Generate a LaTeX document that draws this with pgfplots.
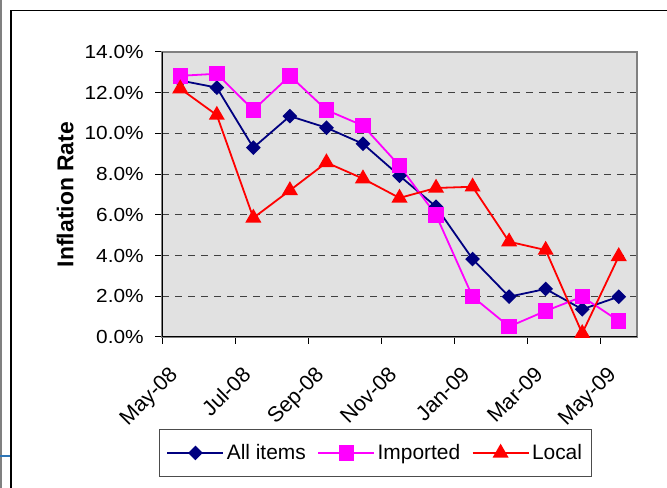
\documentclass[border=0pt]{standalone}
\usepackage{pgfplots}
\pgfplotsset{compat=1.18}
\usepackage{fontspec}
\setmainfont{Liberation Sans}
\definecolor{plotbg}{HTML}{E1E1E1}
\definecolor{navyc}{HTML}{000080}
\definecolor{magc}{HTML}{FF00FF}
\definecolor{redc}{HTML}{FF0000}
\definecolor{slideblue}{HTML}{2E75B6}
\begin{document}
\begin{tikzpicture}[x=1bp,y=1bp]
\useasboundingbox (0,0) rectangle (667,488);
\draw[black!50, line width=2bp] (1,0) -- (1,488);
\draw[black, line width=1.2bp] (11,0) -- (11,477.5) -- (667,477.5);
\draw[slideblue, line width=2bp] (0,32) -- (10,32);
\begin{axis}[
  at={(162bp,151bp)}, anchor=south west,
  scale only axis, width=475bp, height=285bp,
  xmin=0, xmax=13, ymin=0, ymax=14,
  axis background/.style={fill=plotbg},
  axis line style={draw=black!50, line width=1.5bp},
  xtick={0,2,...,12},
  xticklabels={May-08,Jul-08,Sep-08,Nov-08,Jan-09,Mar-09,May-09},
  ytick={0,2,...,14},
  yticklabels={0.0\%,2.0\%,4.0\%,6.0\%,8.0\%,10.0\%,12.0\%,14.0\%},
  xtick pos=bottom, ytick pos=left,
  tick align=outside, major tick length=7bp,
  tick style={black, line width=1bp},
  ymajorgrids,
  major grid style={draw=black!75, line width=0.9bp, dash pattern=on 7bp off 6bp},
  yticklabel style={font=\fontsize{19}{19}\selectfont, inner sep=1bp, xshift=-10bp, xscale=1.1},
  xticklabel style={font=\fontsize{21.5}{21.5}\selectfont, inner sep=0pt, xshift=6bp, yshift=-21bp, rotate=45, anchor=north east},
  ylabel={\textbf{Inflation Rate}},
  ylabel style={font=\fontsize{23}{23}\selectfont, at={(axis description cs:-0.204,0.5)}, anchor=center},
  legend style={at={(axis description cs:0.4495,-0.407)}, anchor=center, draw=black!70, line width=1bp,
    font=\fontsize{21}{21}\selectfont, inner xsep=7bp, inner ysep=13bp,
    nodes={inner sep=2.5bp},
    /tikz/every even column/.append style={column sep=9bp}},
  legend columns=3,
  legend image code/.code={\draw[mark repeat=2,mark phase=2] plot coordinates {(0bp,0bp) (28bp,0bp) (56bp,0bp)};},
  every axis plot/.append style={line width=1.8bp},
]
\addplot[color=navyc, mark=square*, mark size=4.3bp, mark options={rotate=45, solid}] coordinates {
(0.5,12.6) (1.5,12.25) (2.5,9.3) (3.5,10.85) (4.5,10.28) (5.5,9.49) (6.5,7.92)
(7.5,6.40) (8.5,3.83) (9.5,1.98) (10.5,2.36) (11.5,1.36) (12.5,1.98)};
\addlegendentry{All items}
\addplot[color=magc, mark=square*, mark size=6.8bp] coordinates {
(0.5,12.83) (1.5,12.93) (2.5,11.15) (3.5,12.83) (4.5,11.15) (5.5,10.38) (6.5,8.41)
(7.5,5.99) (8.5,1.98) (9.5,0.51) (10.5,1.28) (11.5,1.98) (12.5,0.79)};
\addlegendentry{Imported}
\addplot[color=redc, mark=triangle*, mark size=7.5bp] coordinates {
(0.5,12.2) (1.5,10.9) (2.5,5.85) (3.5,7.2) (4.5,8.57) (5.5,7.78) (6.5,6.83)
(7.5,7.32) (8.5,7.38) (9.5,4.68) (10.5,4.27) (11.5,0.18) (12.5,3.96)};
\addlegendentry{Local\hspace{7bp}}
\draw[black, line width=1.6bp] (rel axis cs:0,1) -- (rel axis cs:0,0) -- (rel axis cs:1,0);
\end{axis}
\end{tikzpicture}
\end{document}
